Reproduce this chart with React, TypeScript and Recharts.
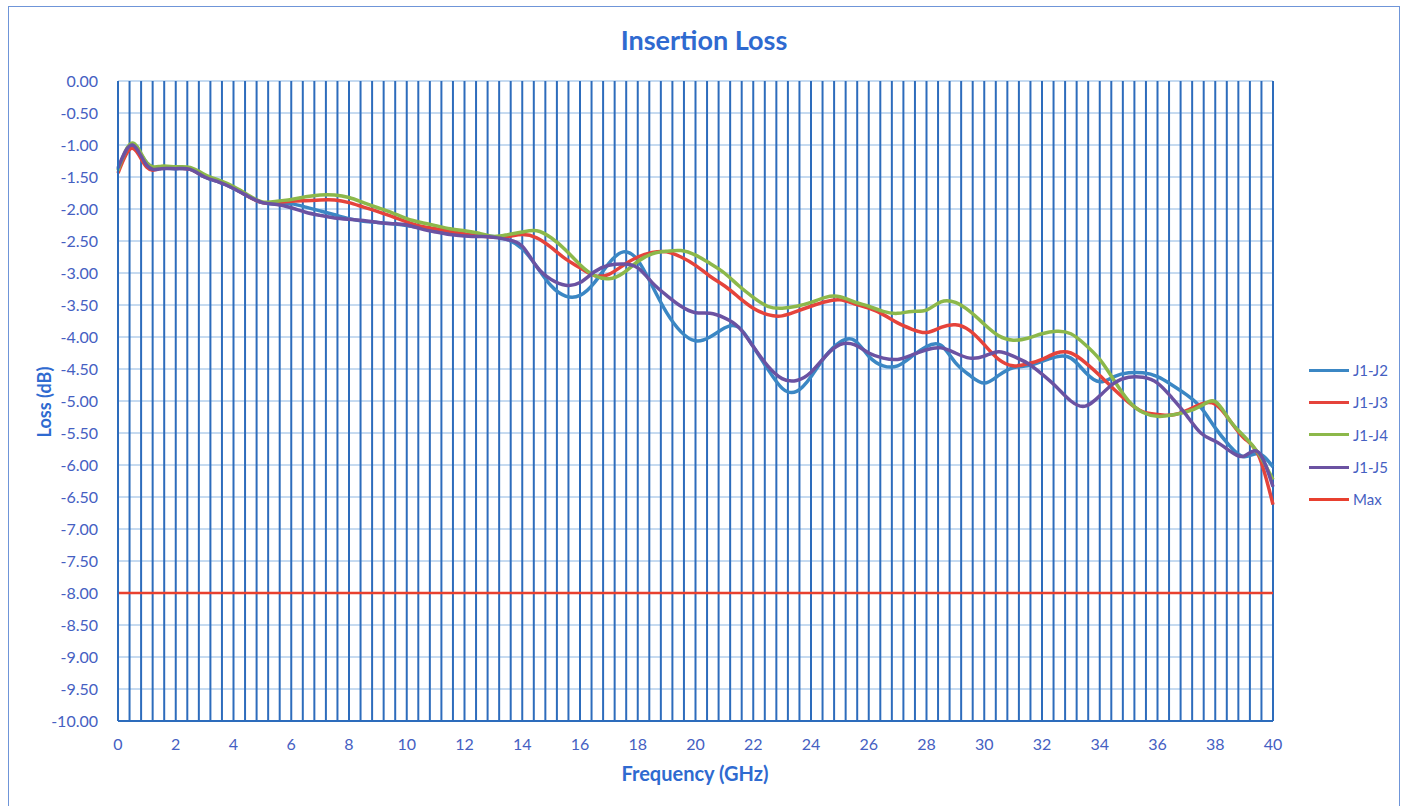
import React from "react";
import {
  LineChart,
  Line,
  XAxis,
  YAxis,
  CartesianGrid,
  ReferenceLine,
} from "recharts";

const frequencies = [
  0, 0.5, 1, 1.5, 2, 2.5, 3, 3.5, 4, 4.5, 5, 5.5, 6, 6.5, 7, 7.5, 8, 8.5, 9, 9.5,
  10, 10.5, 11, 11.5, 12, 12.5, 13, 13.5, 14, 14.5, 15, 15.5, 16, 16.5, 17, 17.5, 18, 18.5, 19, 19.5,
  20, 20.5, 21, 21.5, 22, 22.5, 23, 23.5, 24, 24.5, 25, 25.5, 26, 26.5, 27, 27.5, 28, 28.5, 29, 29.5,
  30, 30.5, 31, 31.5, 32, 32.5, 33, 33.5, 34, 34.5, 35, 35.5, 36, 36.5, 37, 37.5, 38, 38.5, 39, 39.5,
  40,
];

const j1j2 = [
  -1.38, -1.02, -1.28, -1.36, -1.37, -1.38, -1.5, -1.58, -1.68, -1.8, -1.9, -1.92, -1.92, -1.97, -2.03, -2.09, -2.15, -2.19, -2.21, -2.23,
  -2.26, -2.3, -2.34, -2.37, -2.4, -2.42, -2.43, -2.48, -2.62, -2.9, -3.2, -3.36, -3.35, -3.15, -2.85, -2.67, -2.8, -3.2, -3.62, -3.92,
  -4.06, -4.0, -3.86, -3.85, -4.15, -4.5, -4.8, -4.85, -4.62, -4.3, -4.08, -4.05, -4.3, -4.45, -4.45, -4.3, -4.15, -4.13, -4.4, -4.6,
  -4.72, -4.6, -4.48, -4.45, -4.38, -4.31, -4.33, -4.55, -4.7, -4.62, -4.56, -4.56, -4.62, -4.75, -4.9, -5.1, -5.42, -5.7, -5.87, -5.82,
  -6.03,
];

const j1j3 = [
  -1.44, -1.05, -1.35, -1.36, -1.36, -1.38, -1.49, -1.57, -1.67, -1.8, -1.9, -1.9, -1.88, -1.87, -1.86, -1.86, -1.9, -1.97, -2.04, -2.12,
  -2.2, -2.27, -2.31, -2.35, -2.39, -2.42, -2.44, -2.43, -2.4, -2.45, -2.6, -2.78, -2.92, -3.04, -3.02, -2.88, -2.75, -2.68, -2.67, -2.75,
  -2.88, -3.05, -3.2, -3.38, -3.55, -3.65, -3.67, -3.6, -3.52, -3.45, -3.42, -3.48, -3.55, -3.65, -3.78, -3.88, -3.93, -3.85, -3.81, -3.9,
  -4.12, -4.35, -4.45, -4.42, -4.35, -4.25, -4.25, -4.4, -4.6, -4.82, -5.02, -5.17, -5.21, -5.22, -5.15, -5.05, -5.05, -5.3, -5.58, -5.85,
  -6.62,
];

const j1j4 = [
  -1.4, -0.97, -1.28, -1.33, -1.34, -1.35, -1.46, -1.55, -1.65, -1.78, -1.89, -1.88, -1.85, -1.81, -1.78, -1.78, -1.82, -1.9, -1.98, -2.06,
  -2.15, -2.21, -2.26, -2.31, -2.34, -2.38, -2.43, -2.4, -2.36, -2.34, -2.45, -2.64, -2.87, -3.04, -3.09, -3.0, -2.82, -2.7, -2.66, -2.65,
  -2.72, -2.85, -3.0, -3.2, -3.38, -3.52, -3.55, -3.52, -3.46, -3.38, -3.37, -3.45, -3.52, -3.6, -3.63, -3.6, -3.58, -3.45, -3.46, -3.6,
  -3.8, -3.98, -4.05, -4.02, -3.95, -3.91, -3.95, -4.12, -4.35, -4.68, -5.0, -5.18, -5.24, -5.22, -5.17, -5.08, -5.01, -5.3, -5.55, -5.82,
  -6.23,
];

const j1j5 = [
  -1.36, -1.0, -1.32, -1.37, -1.37, -1.38, -1.5, -1.58, -1.68, -1.8, -1.9, -1.93, -1.98, -2.05, -2.1, -2.14, -2.16, -2.18, -2.21, -2.23,
  -2.25, -2.31, -2.36, -2.4, -2.42, -2.43, -2.44, -2.48, -2.58, -2.9, -3.1, -3.19, -3.15, -2.98, -2.88, -2.86, -2.92, -3.15, -3.35, -3.52,
  -3.62, -3.63, -3.7, -3.85, -4.15, -4.45, -4.65, -4.68, -4.55, -4.3, -4.12, -4.12, -4.25, -4.33, -4.35, -4.28, -4.2, -4.17, -4.25, -4.33,
  -4.3, -4.23, -4.3, -4.41, -4.58, -4.78, -5.0, -5.08, -4.92, -4.72, -4.63, -4.63, -4.72, -4.95, -5.22, -5.5, -5.63, -5.78, -5.86, -5.8,
  -6.34,
];

const maxLimit = -8;

const xTicks = [0, 2, 4, 6, 8, 10, 12, 14, 16, 18, 20, 22, 24, 26, 28, 30, 32, 34, 36, 38, 40];
const yTicks = [
  0, -0.5, -1, -1.5, -2, -2.5, -3, -3.5, -4, -4.5, -5, -5.5, -6, -6.5, -7, -7.5, -8, -8.5, -9, -9.5, -10,
];

// vertical grid lines every 0.4 GHz
const gridFrequencies = [
  0, 0.4, 0.8, 1.2, 1.6, 2, 2.4, 2.8, 3.2, 3.6, 4, 4.4, 4.8, 5.2, 5.6, 6, 6.4, 6.8, 7.2, 7.6,
  8, 8.4, 8.8, 9.2, 9.6, 10, 10.4, 10.8, 11.2, 11.6, 12, 12.4, 12.8, 13.2, 13.6, 14, 14.4, 14.8, 15.2, 15.6,
  16, 16.4, 16.8, 17.2, 17.6, 18, 18.4, 18.8, 19.2, 19.6, 20, 20.4, 20.8, 21.2, 21.6, 22, 22.4, 22.8, 23.2, 23.6,
  24, 24.4, 24.8, 25.2, 25.6, 26, 26.4, 26.8, 27.2, 27.6, 28, 28.4, 28.8, 29.2, 29.6, 30, 30.4, 30.8, 31.2, 31.6,
  32, 32.4, 32.8, 33.2, 33.6, 34, 34.4, 34.8, 35.2, 35.6, 36, 36.4, 36.8, 37.2, 37.6, 38, 38.4, 38.8, 39.2, 39.6,
  40,
];

const series = [
  { key: "J1-J2", color: "#3b87c4" },
  { key: "J1-J3", color: "#e5433b" },
  { key: "J1-J4", color: "#8cb84a" },
  { key: "J1-J5", color: "#6b52a2" },
  { key: "Max", color: "#e8402f" },
];

const data = frequencies.map((f, i) => ({
  freq: f,
  "J1-J2": j1j2[i],
  "J1-J3": j1j3[i],
  "J1-J4": j1j4[i],
  "J1-J5": j1j5[i],
  Max: maxLimit,
}));

const FONT = "Lato, 'Open Sans', sans-serif";
const TEXT_BLUE = "#4560c2";
const TITLE_BLUE = "#2f6ad0";

export default function App() {
  return (
    <div
      style={{
        position: "absolute",
        left: 0,
        top: 0,
        width: 1408,
        height: 806,
        background: "#fff",
        fontFamily: FONT,
        overflow: "hidden",
      }}
    >
      <div
        style={{
          position: "absolute",
          left: 8,
          top: 6,
          width: 1390,
          height: 810,
          border: "1px solid #6f95d8",
        }}
      />
      <div
        style={{
          position: "absolute",
          top: 23,
          left: 0,
          width: 1408,
          textAlign: "center",
          fontSize: 27,
          fontWeight: 700,
          color: TITLE_BLUE,
        }}
      >
        Insertion Loss
      </div>
      <div style={{ position: "absolute", left: 0, top: 0 }}>
        <LineChart
          width={1408}
          height={806}
          data={data}
          margin={{ top: 81, right: 135, bottom: 55, left: 48 }}
        >
          <CartesianGrid vertical={false} stroke="#8db6e2" strokeWidth={1} />
          {gridFrequencies.map((f) => (
            <ReferenceLine key={f} x={f} stroke="#2d6cbc" strokeWidth={2} />
          ))}
          <XAxis
            dataKey="freq"
            type="number"
            domain={[0, 40]}
            ticks={xTicks}
            tickLine={false}
            axisLine={{ stroke: "#2d6cbc", strokeWidth: 2 }}
            tick={{ fill: TEXT_BLUE, fontSize: 16, fontFamily: FONT }}
            tickMargin={12}
            height={30}
          />
          <YAxis
            type="number"
            domain={[-10, 0]}
            ticks={yTicks}
            interval={0}
            tickLine={false}
            axisLine={{ stroke: "#2d6cbc", strokeWidth: 2 }}
            tickFormatter={(v: number) => v.toFixed(2)}
            tick={{ fill: TEXT_BLUE, fontSize: 16, fontFamily: FONT }}
            tickMargin={14}
            width={70}
          />
          {series.map((s) => (
            <Line
              key={s.key}
              type="natural"
              dataKey={s.key}
              stroke={s.color}
              strokeWidth={s.key === "Max" ? 2.5 : 3.5}
              dot={false}
              isAnimationActive={false}
            />
          ))}
        </LineChart>
      </div>
      <div
        style={{
          position: "absolute",
          left: 44,
          top: 402,
          transform: "translate(-50%, -50%) rotate(-90deg)",
          fontSize: 18,
          fontWeight: 700,
          color: TITLE_BLUE,
          whiteSpace: "nowrap",
        }}
      >
        Loss (dB)
      </div>
      <div
        style={{
          position: "absolute",
          top: 761,
          left: 0,
          width: 1390,
          textAlign: "center",
          fontSize: 20,
          fontWeight: 700,
          color: TITLE_BLUE,
        }}
      >
        Frequency (GHz)
      </div>
      <div style={{ position: "absolute", left: 1309, top: 354 }}>
        {series.map((s) => (
          <div
            key={s.key}
            style={{ display: "flex", alignItems: "center", height: 32.3 }}
          >
            <div style={{ width: 40, height: 3, background: s.color }} />
            <span style={{ marginLeft: 4, fontSize: 15, color: TEXT_BLUE }}>{s.key}</span>
          </div>
        ))}
      </div>
    </div>
  );
}
